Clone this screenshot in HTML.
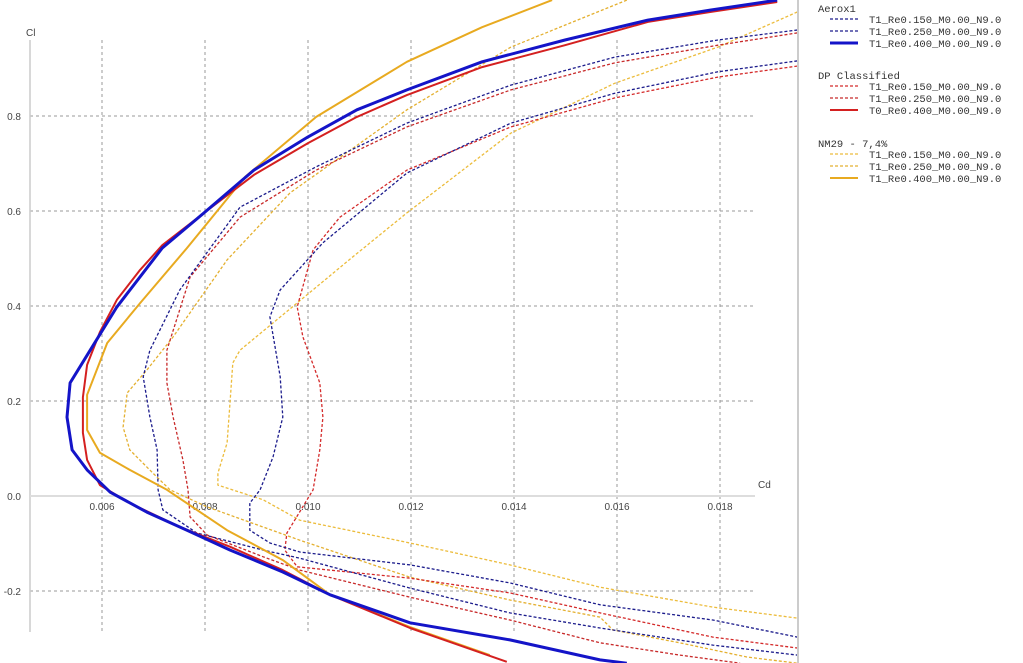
<!DOCTYPE html>
<html><head><meta charset="utf-8"><style>
body{margin:0;background:#fff;width:1023px;height:663px;overflow:hidden}
svg{display:block;font-family:"Liberation Sans",sans-serif}
.lg{font-family:"Liberation Mono",monospace;font-size:10.5px;fill:#333}
</style></head><body>
<svg id="chart" width="1023" height="663" viewBox="0 0 1023 663" xmlns="http://www.w3.org/2000/svg">
<defs><clipPath id="pc"><rect x="30" y="0" width="767" height="663"/></clipPath></defs>
<g id="grid"></g>
<g id="axes"></g>
<g id="series" clip-path="url(#pc)"></g>
<line x1="798" y1="0" x2="798" y2="663" stroke="#ccc" stroke-width="2"/>
<g id="legend"></g>
</svg>
<script>
const xTicks=[0.006,0.008,0.010,0.012,0.014,0.016,0.018];
const xTickLabels=["0.006","0.008","0.010","0.012","0.014","0.016","0.018"];
const yTicks=[-0.2,0.0,0.2,0.4,0.6,0.8];
const yTickLabels=["-0.2","0.0","0.2","0.4","0.6","0.8"];
const seriesNames=["T1_Re0.150_M0.00_N9.0","T1_Re0.250_M0.00_N9.0","T1_Re0.400_M0.00_N9.0","T1_Re0.150_M0.00_N9.0","T1_Re0.250_M0.00_N9.0","T0_Re0.400_M0.00_N9.0","T1_Re0.150_M0.00_N9.0","T1_Re0.250_M0.00_N9.0","T1_Re0.400_M0.00_N9.0"];
const groupNames=["Aerox1","DP Classified","NM29 - 7,4%"];
// Aerox1
const a1Cd=[.01950,.01796,.01596,.01394,.01192,.01029,.00946,.00926,.00946,.00951,.00932,.00907,.00887,.00887,.00926,.00984,.01198,.01392,.01567,.01786,.01950];
const a1Cl=[.916,.893,.848,.785,.680,.533,.434,.377,.251,.166,.082,.013,-.015,-.072,-.099,-.118,-.145,-.183,-.229,-.261,-.297];
const a2Cd=[.01950,.01796,.01596,.01394,.01192,.01016,.00868,.00751,.00693,.00680,.00693,.00707,.00709,.00718,.00784,.00913,.00984,.01198,.01392,.01567,.01786,.01950];
const a2Cl=[.981,.960,.924,.865,.785,.693,.608,.434,.307,.251,.166,.097,.013,-.029,-.078,-.114,-.131,-.194,-.246,-.278,-.314,-.335];
const a3Cd=[.01911,.01781,.01660,.01499,.01338,.01192,.01095,.01000,.00895,.00798,.00717,.00629,.00577,.00538,.00532,.00542,.00571,.00616,.00687,.00765,.00849,.00951,.00984,.01043,.01198,.01392,.01567,.01619];
const a3Cl=[1.044,1.023,1.002,.960,.914,.855,.813,.756,.686,.596,.522,.398,.307,.238,.166,.097,.055,.008,-.034,-.072,-.114,-.160,-.177,-.208,-.267,-.303,-.345,-.352];
// DP Classified
const d1Cd=[.01950,.01796,.01596,.01394,.01192,.01062,.01010,.00979,.00990,.01023,.01029,.01023,.01010,.00959,.00955,.00979,.01198,.01392,.01567,.01786,.01950];
const d1Cl=[.905,.882,.838,.777,.686,.587,.518,.398,.335,.238,.166,.097,.013,-.078,-.114,-.149,-.173,-.204,-.246,-.297,-.320];
const d2Cd=[.01950,.01796,.01596,.01394,.01192,.01016,.00868,.00771,.00726,.00726,.00738,.00757,.00767,.00771,.00804,.00913,.00984,.01198,.01392,.01567,.01722,.01839];
const d2Cl=[.975,.949,.912,.855,.777,.686,.587,.461,.307,.238,.166,.076,.013,-.044,-.082,-.128,-.156,-.213,-.261,-.309,-.335,-.352];
const d3Cd=[.01911,.01781,.01660,.01499,.01338,.01192,.01095,.01000,.00895,.00798,.00717,.00674,.00629,.00596,.00571,.00563,.00563,.00571,.00596,.00654,.00751,.00849,.00951,.01043,.01198,.01386];
const d3Cl=[1.040,1.019,.998,.949,.903,.844,.798,.743,.676,.596,.528,.476,.413,.345,.276,.208,.133,.076,.023,-.015,-.065,-.107,-.156,-.208,-.278,-.349];
// NM29
const n1Cd=[.01950,.01796,.01596,.01394,.01192,.01082,.00965,.00868,.00854,.00849,.00843,.00825,.00825,.00913,.00984,.01198,.01392,.01567,.01786,.01950];
const n1Cl=[1.019,.945,.869,.764,.596,.499,.394,.307,.280,.202,.112,.048,.023,-.008,-.051,-.099,-.145,-.192,-.234,-.257];
const n2Cd=[.01619,.01394,.01192,.01082,.00965,.00843,.00738,.00687,.00649,.00641,.00654,.00699,.00732,.00804,.00984,.01198,.01392,.01567,.01592,.01722,.01852,.01950];
const n2Cl=[1.044,.945,.813,.728,.638,.497,.335,.265,.217,.145,.097,.048,.013,-.023,-.093,-.171,-.219,-.255,-.282,-.309,-.339,-.352];
const n3Cd=[.01474,.01338,.01192,.01016,.00878,.00765,.00674,.00610,.00571,.00571,.00596,.00654,.00726,.00843,.00951,.01043,.01198,.01353];
const n3Cl=[1.044,.987,.914,.798,.672,.522,.406,.322,.213,.139,.091,.055,.013,-.072,-.135,-.208,-.276,-.335];

const NS="http://www.w3.org/2000/svg";
const xS=cd=>102+(cd-0.006)*51500;
const yS=cl=>496-cl*475;
function mk(tag,attrs,parent){const e=document.createElementNS(NS,tag);for(const k in attrs)e.setAttribute(k,attrs[k]);parent.appendChild(e);return e;}
const grid=document.getElementById('grid'),axes=document.getElementById('axes'),ser=document.getElementById('series'),leg=document.getElementById('legend');
xTicks.forEach((t,i)=>{
  const l=mk('line',{x1:xS(t),x2:xS(t),y1:40,y2:632,stroke:'#999','stroke-dasharray':'3,3'},grid);
  
  
  const tx=mk('text',{x:xS(t),y:510,'text-anchor':'middle','font-size':'10',fill:'#444'},axes);
  tx.textContent=xTickLabels[i];
  
  
});
yTicks.forEach((t,i)=>{
  if(Math.abs(t)>1e-9){
    const l=mk('line',{x1:30,x2:755,y1:yS(t),y2:yS(t),stroke:'#999','stroke-dasharray':'3,3'},grid);
    
    
  }
  const tx=mk('text',{x:21,y:yS(t)+4,'text-anchor':'end','font-size':'10',fill:'#444'},axes);
  tx.textContent=yTickLabels[i];
  
  
});
const ya=mk('line',{x1:30,x2:30,y1:40,y2:632,stroke:'#ccc','stroke-width':1.5},axes);


const xa=mk('line',{x1:30,x2:755,y1:496,y2:496,stroke:'#ddd','stroke-width':2},axes);


const clT=mk('text',{x:26,y:36,'font-size':'10',fill:'#444'},axes);clT.textContent='Cl';


const cdT=mk('text',{x:758,y:488,'font-size':'10',fill:'#444'},axes);cdT.textContent='Cd';



const styles=[
 {c:'#1c1c8c',w:1.3,d:'3,2'},{c:'#1c1c8c',w:1.3,d:'3,2'},{c:'#1414c8',w:3,d:''},
 {c:'#d42a2a',w:1.3,d:'3,2'},{c:'#c82a2a',w:1.3,d:'3,2'},{c:'#d42020',w:2,d:''},
 {c:'#ecbc3c',w:1.3,d:'3,2'},{c:'#e4b030',w:1.3,d:'3,2'},{c:'#e8aa20',w:2,d:''}];
const data=[[a1Cd,a1Cl],[a2Cd,a2Cl],[a3Cd,a3Cl],[d1Cd,d1Cl],[d2Cd,d2Cl],[d3Cd,d3Cl],[n1Cd,n1Cl],[n2Cd,n2Cl],[n3Cd,n3Cl]];
const order=[6,7,3,4,0,1,8,5,2];
order.forEach(i=>{
  const [cx,cy]=data[i];const s=styles[i];
  const pts=cx.map((v,k)=>xS(v).toFixed(1)+','+yS(cy[k]).toFixed(1)).join(' ');
  const p=mk('polyline',{points:pts,fill:'none',stroke:s.c,'stroke-width':s.w,'stroke-linejoin':'round'},ser);
  if(s.d)p.setAttribute('stroke-dasharray',s.d);
  
  
});
const gY=[12,79,147],rowDy=[11,23,35];
groupNames.forEach((g,gi)=>{
  const h=mk('text',{x:818,y:gY[gi],class:'lg'},leg);h.textContent=g;
  
  
  for(let r=0;r<3;r++){
    const i=gi*3+r,s=styles[i],y=gY[gi]+rowDy[r];
    const l=mk('line',{x1:830,x2:858,y1:y-4,y2:y-4,stroke:s.c,'stroke-width':s.w},leg);
    if(s.d)l.setAttribute('stroke-dasharray',s.d);
    
    
    const t=mk('text',{x:869,y:y,class:'lg'},leg);t.textContent=seriesNames[i];
    
    
  }
});
</script>
</body></html>
